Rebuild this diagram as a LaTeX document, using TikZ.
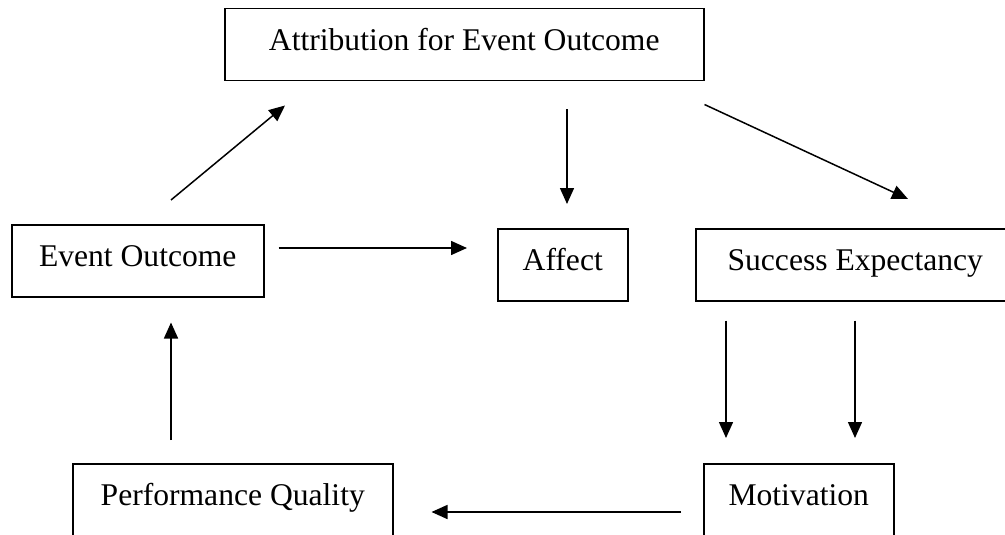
\documentclass[tikz,border=0pt]{standalone}
\usepackage{fontspec}
\setmainfont{Liberation Serif}
\usetikzlibrary{arrows.meta,calc}
\begin{document}
\begin{tikzpicture}[x=1pt,y=-1pt,
  box/.style={draw, line width=1.5pt, inner sep=0pt, anchor=north west,
    font=\fontsize{31.6}{38}\selectfont, text height=41.5pt, text depth=30.5pt},
  openbox/.style={box, text depth=50pt},
  arr/.style={line width=1.5pt, -{Triangle[length=16pt,width=14pt]}}]
\useasboundingbox (0,0) rectangle (1005,535);
\clip (0,0) rectangle (1005,535);
\fill[white] (0,0) rectangle (1005,535);
\node[box, minimum width=479pt] (att) at (224,8) {Attribution for Event Outcome};
\node[box, minimum width=252pt] (ev) at (11,224) {Event Outcome};
\node[box, minimum width=130pt] (aff) at (497,228) {Affect};
\node[box, minimum width=319pt] (se) at (695,228) {Success Expectancy};
\node[openbox, minimum width=320pt] (pq) at (72,463) {Performance Quality};
\node[openbox, minimum width=190pt] (mot) at (703,463) {Motivation};
% connector end points
\coordinate (evA) at ($(ev.north west)+(160,-24)$);
\coordinate (attA) at ($(att.south west)+(61,24)$);
\coordinate (attB) at ($(att.south west)+(343,28)$);
\coordinate (affA) at ($(aff.north west)+(70,-24)$);
\coordinate (attC) at ($(att.south east)+(0,23)$);
\coordinate (seA) at ($(se.north west)+(213,-29)$);
\coordinate (evB) at ($(ev.north east)+(14,24)$);
\coordinate (affB) at ($(aff.north west)+(-30,20)$);
\coordinate (seB) at ($(se.south west)+(31,19)$);
\coordinate (seC) at ($(se.south west)+(160,19)$);
\coordinate (motA) at ($(mot.north west)+(23,-25)$);
\coordinate (motB) at ($(mot.north west)+(152,-25)$);
\coordinate (pqA) at ($(pq.north west)+(99,-23)$);
\coordinate (evC) at ($(ev.south west)+(160,25)$);
\coordinate (motC) at ($(mot.north west)+(-22,49)$);
\coordinate (pqB) at ($(pq.north east)+(38,49)$);
\draw[arr] (evA) -- (attA);
\draw[arr] (attB) -- (affA);
\draw[arr] (attC) -- (seA);
\draw[arr] (evB) -- (affB);
\draw[arr] (seB) -- (motA);
\draw[arr] (seC) -- (motB);
\draw[arr] (pqA) -- (evC);
\draw[arr] (motC) -- (pqB);
\end{tikzpicture}
\end{document}
